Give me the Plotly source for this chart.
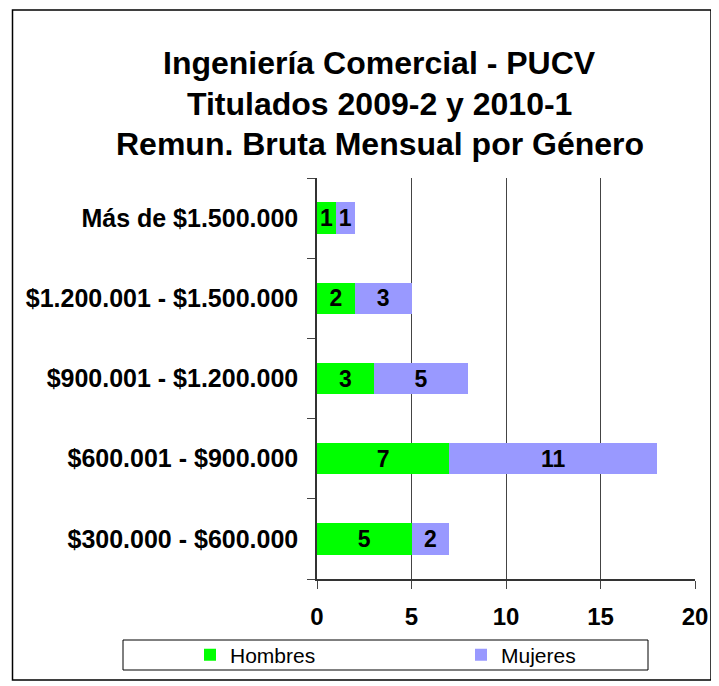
import plotly.graph_objects as go

categories = ["$300.000 - $600.000", "$600.001 - $900.000", "$900.001 - $1.200.000",
              "$1.200.001 - $1.500.000", "Más de $1.500.000"]
hombres = [5, 7, 3, 2, 1]
mujeres = [2, 11, 5, 3, 1]
x_ticks = [0, 5, 10, 15, 20]
title_lines = ["Ingeniería Comercial - PUCV", "Titulados 2009-2 y 2010-1",
               "Remun. Bruta Mensual por Género"]

FONT = "Liberation Sans, Arial, sans-serif"
OFF = 8  # page body margin
W, H = 711, 678
L, R, T, B = 309, 24, 170, 107
pw, ph = W - L - R, H - T - B

def px_x(p):
    return (p - OFF - L) / pw

def px_y(p):
    return (H - B - (p - OFF)) / ph

fig = go.Figure()
for name, vals, col, lg in [("Hombres", hombres, "#00FF00", "legend"),
                            ("Mujeres", mujeres, "#9999FF", "legend2")]:
    fig.add_trace(go.Bar(
        y=categories, x=vals, name=name, orientation="h", legend=lg,
        marker=dict(color=col, line=dict(width=0)),
        text=vals, textposition="inside", insidetextanchor="middle",
        constraintext="none", textangle=0,
        textfont=dict(family=FONT, size=23, color="black", weight="bold"),
    ))

annotations = []
for t, yy in zip(title_lines, [63, 104, 144]):
    annotations.append(dict(
        text=t, xref="paper", yref="paper", x=px_x(379.5), y=px_y(yy),
        xanchor="center", yanchor="middle", showarrow=False,
        font=dict(family=FONT, size=32, color="black", weight="bold")))

shapes = [
    dict(type="rect", xref="paper", yref="paper",
         x0=px_x(12.5), x1=px_x(711), y0=px_y(10), y1=px_y(680),
         line=dict(color="black", width=1.5), fillcolor="rgba(0,0,0,0)", layer="below"),
    dict(type="rect", xref="paper", yref="paper",
         x0=px_x(123), x1=px_x(648), y0=px_y(640), y1=px_y(670),
         line=dict(color="black", width=1), fillcolor="rgba(0,0,0,0)"),
]

leg_common = dict(orientation="h", xanchor="left", yanchor="middle", y=px_y(655),
                  font=dict(family=FONT, size=21, color="black"),
                  bgcolor="rgba(0,0,0,0)", borderwidth=0)

fig.update_layout(
    width=W, height=H, barmode="stack", bargap=0.61,
    margin=dict(l=L, r=R, t=T, b=B, pad=0, autoexpand=False),
    paper_bgcolor="white", plot_bgcolor="white",
    font=dict(family=FONT, color="black"),
    showlegend=True,
    legend=dict(x=px_x(190), **leg_common),
    legend2=dict(x=px_x(461), **leg_common),
    annotations=annotations, shapes=shapes,
)
fig.update_xaxes(range=[0, 20], tickvals=x_ticks, ticktext=[str(v) for v in x_ticks],
                 showgrid=True, gridcolor="#444444", gridwidth=1,
                 showline=True, linecolor="#333333", linewidth=1.5,
                 ticks="outside", ticklen=8, tickcolor="#444444",
                 ticklabelstandoff=7, zeroline=False, automargin=False,
                 tickfont=dict(family=FONT, size=24, color="black", weight="bold"))
fig.update_yaxes(type="category", categoryorder="array", categoryarray=categories,
                 showline=True, linecolor="#333333", linewidth=1.5,
                 ticks="outside", ticklen=8, tickcolor="#444444", tickson="boundaries",
                 ticklabelstandoff=12, showgrid=False, automargin=False,
                 tickfont=dict(family=FONT, size=25, color="black", weight="bold"))

fig.write_html("out.html")
